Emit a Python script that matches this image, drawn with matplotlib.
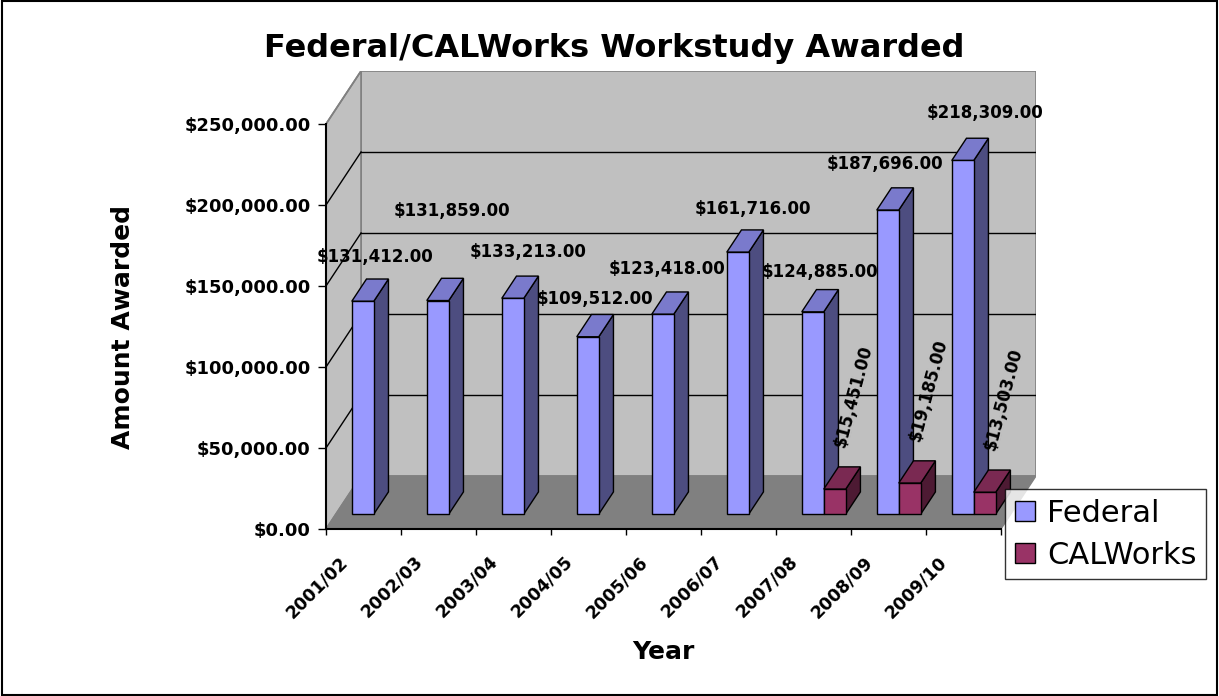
import matplotlib
matplotlib.use("Agg")
import matplotlib.pyplot as plt
from matplotlib.patches import Polygon, Patch, Rectangle
from matplotlib.transforms import offset_copy

# data
years = ["2001/02", "2002/03", "2003/04", "2004/05", "2005/06",
         "2006/07", "2007/08", "2008/09", "2009/10"]
federal = [131412, 131859, 133213, 109512, 123418, 161716, 124885, 187696, 218309]
calworks = [0, 0, 0, 0, 0, 0, 15451, 19185, 13503]
y_ticks = [0, 50000, 100000, 150000, 200000, 250000]

# layout (pixel nudges of the data labels, as Excel placed them)
fed_nudge = [(5, 33), (7, 78), (8, 35), (0, 27), (-3, 34), (8, 32), (0, 29), (-10, 35), (15, 36)]
cal_nudge = (-2, 31)

# pseudo 3d geometry: depth offset of the walls in data units
DX = 0.467
DY = 32716
D0, D1 = 0.28, 0.70
BAR_W = 0.293
BAR_X0 = 0.213

W, H = 1219, 696
fig = plt.figure(figsize=(W / 100, H / 100), dpi=100)
ax = fig.add_axes([326 / W, (H - 529) / H, 710 / W, 458 / H])
ax.set_xlim(0, 9 + DX)
ax.set_ylim(0, 250000 + DY)
ax.patch.set_alpha(0)

# walls and floor
ax.add_patch(Polygon([(DX, DY), (9 + DX, DY), (9 + DX, 250000 + DY), (DX, 250000 + DY)],
                     closed=True, facecolor="#c0c0c0", edgecolor="#808080", lw=1.2, zorder=0))
ax.add_patch(Polygon([(0, 0), (DX, DY), (DX, 250000 + DY), (0, 250000)],
                     closed=True, facecolor="#c0c0c0", edgecolor="#808080", lw=1.2, zorder=0))
ax.add_patch(Polygon([(0, 0), (9, 0), (9 + DX, DY), (DX, DY)],
                     closed=True, facecolor="#808080", edgecolor="#808080", lw=1, zorder=0.5))
for t in y_ticks[1:-1]:
    ax.plot([DX, 9 + DX], [t + DY, t + DY], color="black", lw=1, zorder=0.6)
    ax.plot([0, DX], [t, t + DY], color="black", lw=1, zorder=0.6)
ax.plot([0, DX], [250000, 250000 + DY], color="#808080", lw=1.2, zorder=0.6)


def draw_bar(xl, v, front, side, top):
    xr = xl + BAR_W
    a0x, a0y = D0 * DX, D0 * DY
    a1x, a1y = D1 * DX, D1 * DY
    kw = dict(closed=True, edgecolor="black", lw=1, zorder=2)
    ax.add_patch(Polygon([(xr + a0x, a0y), (xr + a1x, a1y), (xr + a1x, v + a1y), (xr + a0x, v + a0y)],
                         facecolor=side, **kw))
    ax.add_patch(Polygon([(xl + a0x, v + a0y), (xr + a0x, v + a0y), (xr + a1x, v + a1y), (xl + a1x, v + a1y)],
                         facecolor=top, **kw))
    ax.add_patch(Polygon([(xl + a0x, a0y), (xr + a0x, a0y), (xr + a0x, v + a0y), (xl + a0x, v + a0y)],
                         facecolor=front, **kw))
    dm = (D0 + D1) / 2
    return xl + BAR_W / 2 + dm * DX, v + dm * DY


for i in range(len(years)):
    xl = i + BAR_X0
    cx, cy = draw_bar(xl, federal[i], "#9999ff", "#4d4d80", "#7a7acc")
    nx, ny = fed_nudge[i]
    ax.text(cx, cy, f"${federal[i]:,.2f}", fontsize=12, fontweight="bold",
            ha="center", va="center", zorder=5,
            transform=offset_copy(ax.transData, fig=fig, x=nx, y=ny, units="dots"))
    if calworks[i] > 0:
        cx, cy = draw_bar(xl + BAR_W, calworks[i], "#993366", "#4d1a33", "#7a2952")
        ax.text(cx, cy, f"${calworks[i]:,.2f}", fontsize=12, fontweight="bold",
                rotation=75, rotation_mode="anchor", ha="left", va="center", zorder=5,
                transform=offset_copy(ax.transData, fig=fig, x=cal_nudge[0], y=cal_nudge[1], units="dots"))

# axes lines and ticks
for s in ["top", "right"]:
    ax.spines[s].set_visible(False)
ax.spines["left"].set_bounds(0, 250000)
ax.spines["bottom"].set_bounds(0, 9)
ax.spines["left"].set_linewidth(1.5)
ax.spines["bottom"].set_linewidth(1.5)
ax.set_yticks(y_ticks)
ax.set_yticklabels([f"${t:,.2f}" for t in y_ticks], fontsize=13, fontweight="bold")
ax.tick_params(axis="y", length=6, width=1, pad=5)
ax.set_xticks(range(len(years) + 1))
ax.set_xticklabels([])
ax.tick_params(axis="x", length=4.5, width=1)

for i, y in enumerate(years):
    ax.text(i + 0.5, 0, y, fontsize=12.5, fontweight="bold", rotation=45,
            rotation_mode="anchor", ha="right", va="center",
            transform=offset_copy(ax.transData, fig=fig, x=-19, y=-30, units="dots"))

fig.text(614 / W, 1 - 48 / H, "Federal/CALWorks Workstudy Awarded", fontsize=23,
         fontweight="bold", ha="center", va="center")
fig.text(123 / W, 1 - 327 / H, "Amount Awarded", fontsize=18, fontweight="bold",
         rotation=90, ha="center", va="center")
fig.text(663 / W, 1 - 652 / H, "Year", fontsize=18, fontweight="bold",
         ha="center", va="center")

handles = [Patch(facecolor="#9999ff", edgecolor="black", label="Federal"),
           Patch(facecolor="#993366", edgecolor="black", label="CALWorks")]
leg = fig.legend(handles=handles, loc="upper left", bbox_to_anchor=(1005 / W, 1 - 489 / H),
                 borderaxespad=0, fontsize=22, frameon=True, fancybox=False,
                 handlelength=0.66, handleheight=0.66, handletextpad=0.4,
                 borderpad=0.32, labelspacing=0.42)
leg.get_frame().set_edgecolor("black")
leg.get_frame().set_linewidth(1)

fig.patches.append(Rectangle((2 / W, 1 / H), 1215 / W, 694 / H, transform=fig.transFigure,
                             fill=False, edgecolor="black", lw=1.5))

fig.savefig("out.png", dpi=100)
